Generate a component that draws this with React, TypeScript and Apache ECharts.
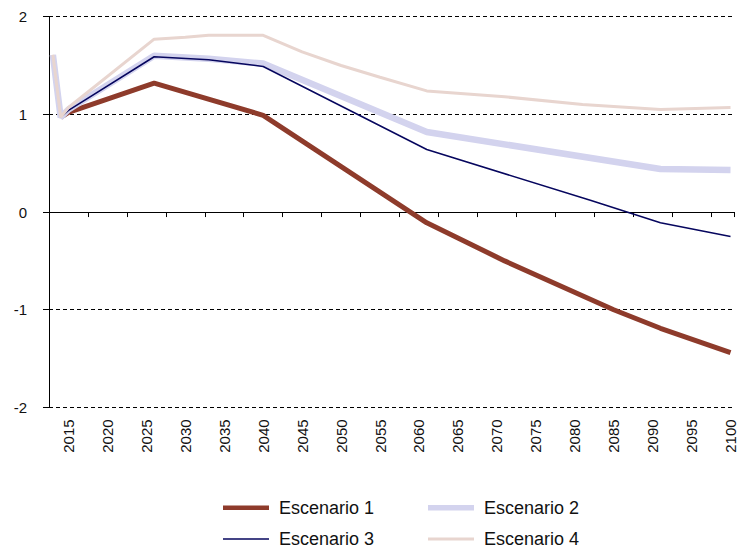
import React, { useEffect, useRef } from "react";
import * as echarts from "echarts";

// Category axis: yearly from 2013 to 2100
const years: string[] = Array.from({ length: 88 }, (_, i) => String(2013 + i));

// Values at key years (lines are straight between them)
const escenario1: [string, number][] = [
  ["2014", 0.97], ["2015", 1.02], ["2026", 1.32], ["2040", 0.99],
  ["2061", -0.11], ["2071", -0.5], ["2085", -1.0], ["2091", -1.19], ["2100", -1.44],
];
const escenario2: [string, number][] = [
  ["2013", 1.61], ["2014", 0.97], ["2015", 1.05], ["2026", 1.6], ["2033", 1.57],
  ["2040", 1.52], ["2061", 0.82], ["2091", 0.44], ["2100", 0.43],
];
const escenario3: [string, number][] = [
  ["2014", 0.97], ["2015", 1.04], ["2026", 1.59], ["2033", 1.56], ["2040", 1.49],
  ["2061", 0.64], ["2082", 0.12], ["2091", -0.11], ["2100", -0.25],
];
const escenario4: [string, number][] = [
  ["2013", 1.61], ["2014", 0.97], ["2015", 1.07], ["2026", 1.77], ["2030", 1.79],
  ["2033", 1.81], ["2040", 1.81], ["2045", 1.64], ["2050", 1.5], ["2055", 1.38],
  ["2061", 1.24], ["2071", 1.18], ["2081", 1.1], ["2091", 1.05], ["2100", 1.07],
];

const seriesNames = ["Escenario 1", "Escenario 2", "Escenario 3", "Escenario 4"];
const seriesColors = ["#8E3B2B", "#D3D3EE", "#06065E", "#E8D5CF"];
const seriesWidths = [5, 6.5, 1.5, 3];
const legendWidths = [4.5, 5.5, 1.5, 3];

const yTicks = [-2, -1, 0, 1, 2];

const FONT = "'Liberation Sans', Arial, sans-serif";

export default function App() {
  const ref = useRef<HTMLDivElement>(null);
  useEffect(() => {
    if (!ref.current) return;
    const chart = echarts.init(ref.current, undefined, { renderer: "svg" });
    const legendPos = [
      { left: 218, center: 506.7 },
      { left: 423, center: 506.7 },
      { left: 218, center: 538 },
      { left: 423, center: 538 },
    ];
    const legends = seriesNames.map((name, i) => ({
      data: [{ name, icon: "rect" }],
      orient: "horizontal",
      left: legendPos[i].left,
      top: legendPos[i].center - 14,
      itemWidth: 46,
      itemHeight: legendWidths[i],
      selectedMode: false,
      itemStyle: { color: seriesColors[i], borderWidth: 0 },
      lineStyle: { width: 0 },
      textStyle: {
        fontSize: 18,
        fontFamily: FONT,
        color: "#111",
        lineHeight: 20,
        padding: [0, 0, 0, 5],
      },
    }));
    const dataSets = [escenario1, escenario2, escenario3, escenario4];
    chart.setOption({
      animation: false,
      backgroundColor: "#fff",
      grid: { left: 49, right: 0, top: 16.7, bottom: 142.6 },
      xAxis: [
        {
          type: "category",
          data: years,
          boundaryGap: true,
          position: "bottom",
          axisLine: { onZero: true, lineStyle: { color: "#000", width: 1 } },
          axisTick: {
            show: true,
            length: 5,
            interval: (i: number) => i % 5 === 0,
            lineStyle: { color: "#000" },
          },
          axisLabel: { show: false },
          splitLine: { show: false },
        },
        {
          type: "category",
          data: years,
          boundaryGap: true,
          position: "bottom",
          axisLine: { show: false, onZero: false },
          axisTick: { show: false },
          axisLabel: {
            show: true,
            rotate: 90,
            margin: 12,
            interval: (i: number) => (i - 2) % 5 === 0,
            fontSize: 15,
            fontFamily: FONT,
            color: "#111",
          },
          splitLine: { show: false },
        },
      ],
      yAxis: {
        type: "value",
        min: yTicks[0],
        max: yTicks[yTicks.length - 1],
        interval: 1,
        axisLine: { show: true, lineStyle: { color: "#000", width: 1 } },
        axisTick: { show: true, length: 6, lineStyle: { color: "#000" } },
        axisLabel: { margin: 22, fontSize: 15, fontFamily: FONT, color: "#111" },
        splitLine: { show: true, lineStyle: { type: [4, 3], color: "#000", width: 1 } },
      },
      legend: legends,
      series: dataSets.map((d, i) => ({
        name: seriesNames[i],
        type: "line",
        xAxisIndex: 0,
        data: d,
        symbol: "none",
        lineStyle: { color: seriesColors[i], width: seriesWidths[i] },
        itemStyle: { color: seriesColors[i] },
      })),
    });
    return () => chart.dispose();
  }, []);
  return (
    <div
      ref={ref}
      style={{ position: "fixed", left: 0, top: 0, width: 738, height: 550 }}
    />
  );
}
